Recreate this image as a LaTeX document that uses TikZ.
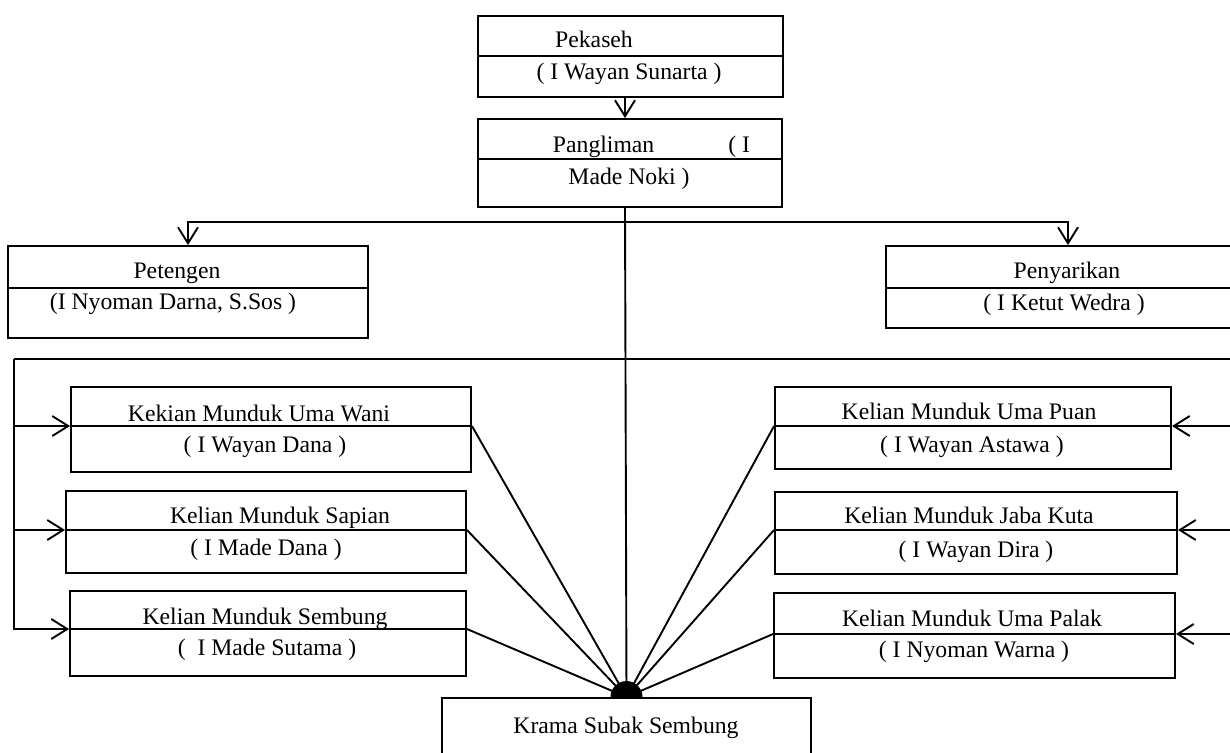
\documentclass[tikz,border=0pt]{standalone}
\usepackage{fontspec}
\setmainfont{Liberation Serif}
\usetikzlibrary{arrows.meta,fit}

\begin{document}
\begin{tikzpicture}[x=0.5pt, y=-0.5pt, line width=0.95pt,
		box/.style={draw, line width=0.95pt, inner sep=0pt},
		divider/.style={line width=1.3pt},
		lbl/.style={anchor=base, inner sep=0pt, font=\fontsize{11.85}{14}\selectfont},
		arr/.style={-{Straight Barb[length=8pt, width=10pt]}}]
		%%%%% START %%%%%
		\path[use as bounding box, clip] (0,0) rectangle (1230,753);
		
		% boxes
		\node[box, fit={(478,16) (783,97)}] (pekaseh) {};
		\node[box, fit={(478,119) (782,207)}] (pangliman) {};
		\node[box, fit={(8,246) (368,338)}] (petengen) {};
		\node[box, fit={(886,246) (1250,328)}] (penyarikan) {};
		\node[box, fit={(71,387) (471,472)}] (wani) {};
		\node[box, fit={(66,491) (466,573)}] (sapian) {};
		\node[box, fit={(70,591) (466,676)}] (sembung) {};
		\node[box, fit={(775,387) (1171,469)}] (puan) {};
		\node[box, fit={(775,492) (1177,574)}] (jabakuta) {};
		\node[box, fit={(774,593) (1175,678)}] (umapalak) {};
		\node[box, fit={(442,698) (811,775)}] (krama) {};
		
		% middle lines of the boxes
		\foreach \b/\y in {pekaseh/56, pangliman/159, petengen/288, penyarikan/288,
				wani/426, sapian/530, sembung/629, puan/426, jabakuta/530, umapalak/634} {
			\coordinate (\b-w) at (\b.west |- 0,\y);
			\coordinate (\b-e) at (\b.east |- 0,\y);
			\draw[divider] (\b-w) -- (\b-e);
		}
		
		% texts
		\node[lbl] (pekaseh-role) at (594,48) {Pekaseh};
		\node[lbl] (pekaseh-name) at (629,80) {( I Wayan Sunarta )};
		\node[lbl, anchor=base west] (pangliman-role) at (552,153) {Pangliman\hspace{37pt}( I};
		\node[lbl] (pangliman-name) at (629,185) {Made Noki )};
		\node[lbl] (petengen-role) at (177,279) {Petengen};
		\node[lbl] (petengen-name) at (173,310) {(I Nyoman Darna, S.Sos )};
		\node[lbl] (penyarikan-role) at (1067,279) {Penyarikan};
		\node[lbl] (penyarikan-name) at (1064,311) {( I Ketut Wedra )};
		\node[lbl] (wani-role) at (259,421) {Kekian Munduk Uma Wani};
		\node[lbl] (wani-name) at (265,452) {( I Wayan Dana )};
		\node[lbl] (sapian-role) at (280,523) {Kelian Munduk Sapian};
		\node[lbl] (sapian-name) at (266,555) {( I Made Dana )};
		\node[lbl] (sembung-role) at (265,624) {Kelian Munduk Sembung};
		\node[lbl] (sembung-name) at (267,655) {(~ I Made Sutama )};
		\node[lbl] (puan-role) at (969,419) {Kelian Munduk Uma Puan};
		\node[lbl] (puan-name) at (972,452) {( I Wayan Astawa )};
		\node[lbl] (jabakuta-role) at (969,523) {Kelian Munduk Jaba Kuta};
		\node[lbl] (jabakuta-name) at (976,557) {( I Wayan Dira )};
		\node[lbl] (umapalak-role) at (972,626) {Kelian Munduk Uma Palak};
		\node[lbl] (umapalak-name) at (974,657) {( I Nyoman Warna )};
		\node[lbl] (krama-name) at (626,733) {Krama Subak Sembung};
		
		% connectors
		\coordinate (axis) at (625,0);
		\coordinate (hub) at (krama.north);
		\coordinate (busL) at (14,359);
		\coordinate (busR) at (1245,359);
		
		\draw[arr] (pekaseh.south -| axis) -- (pangliman.north -| axis);
		\draw (pangliman.south -| axis) -- (hub);
		\draw[arr] (axis |- 0,222) -| (petengen.north);
		\draw[arr] (axis |- 0,222) -| (penyarikan.north);
		
		\draw (busL) -- (busR);
		\draw[arr] (busL) |- (wani-w);
		\draw[arr] (busL) |- (sapian-w);
		\draw[arr] (busL) |- (sembung-w);
		\draw[arr] (busR) |- (puan-e);
		\draw[arr] (busR) |- (jabakuta-e);
		\draw[arr] (busR) |- (umapalak-e);
		
		\foreach \p in {wani-e, sapian-e, sembung-e, puan-w, jabakuta-w, umapalak-w}
			\draw (\p) -- (hub);
		\fill ([xshift=-8pt]hub) arc (180:360:16) -- cycle;
		
		%%%%% END %%%%%
	\end{tikzpicture}
\end{document}
